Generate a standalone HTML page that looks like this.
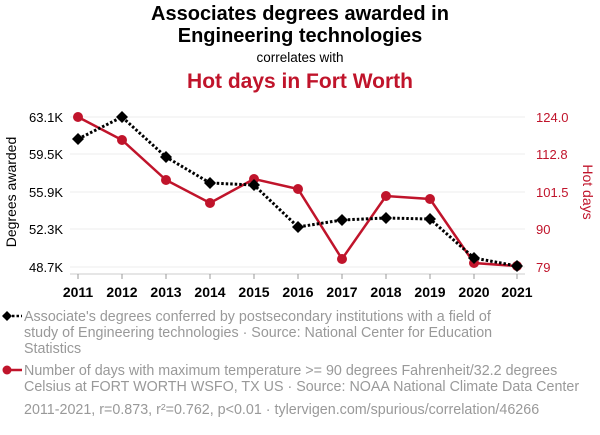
<!DOCTYPE html>
<html><head><style>
body{margin:0;background:#fff;width:600px;height:430px;overflow:hidden;font-family:"Liberation Sans",sans-serif}
</style></head><body>
<svg width="600" height="430" xmlns="http://www.w3.org/2000/svg" font-family="Liberation Sans, sans-serif">
<text x="300" y="20" text-anchor="middle" font-size="20" font-weight="bold" fill="#000">Associates degrees awarded in</text>
<text x="300" y="42" text-anchor="middle" font-size="20" font-weight="bold" fill="#000">Engineering technologies</text>
<text x="300" y="62" text-anchor="middle" font-size="13.5" fill="#000">correlates with</text>
<text x="300" y="88" text-anchor="middle" font-size="21" font-weight="bold" fill="#c0142b">Hot days in Fort Worth</text>
<g stroke="#eee" stroke-width="1">
<line x1="70" x2="525" y1="117" y2="117"/><line x1="70" x2="525" y1="154" y2="154"/><line x1="70" x2="525" y1="192" y2="192"/><line x1="70" x2="525" y1="229" y2="229"/><line x1="70" x2="525" y1="267" y2="267"/>
</g>
<line x1="70" x2="525" y1="274" y2="274" stroke="#ccc"/>
<g stroke="#999"><line x1="78" x2="78" y1="274" y2="279"/><line x1="122" x2="122" y1="274" y2="279"/><line x1="166" x2="166" y1="274" y2="279"/><line x1="210" x2="210" y1="274" y2="279"/><line x1="254" x2="254" y1="274" y2="279"/><line x1="298" x2="298" y1="274" y2="279"/><line x1="342" x2="342" y1="274" y2="279"/><line x1="386" x2="386" y1="274" y2="279"/><line x1="430" x2="430" y1="274" y2="279"/><line x1="474" x2="474" y1="274" y2="279"/><line x1="517" x2="517" y1="274" y2="279"/></g>
<g font-size="14" font-weight="bold" text-anchor="middle" fill="#000">
<text x="78" y="297">2011</text><text x="122" y="297">2012</text><text x="166" y="297">2013</text><text x="210" y="297">2014</text><text x="254" y="297">2015</text><text x="298" y="297">2016</text><text x="342" y="297">2017</text><text x="386" y="297">2018</text><text x="430" y="297">2019</text><text x="474" y="297">2020</text><text x="517" y="297">2021</text>
</g>
<g font-size="13" text-anchor="end" fill="#000">
<text x="63" y="122">63.1K</text><text x="63" y="159">59.5K</text><text x="63" y="197">55.9K</text><text x="63" y="234">52.3K</text><text x="63" y="272">48.7K</text>
</g>
<g font-size="13" text-anchor="start" fill="#c0142b">
<text x="536" y="122">124.0</text><text x="536" y="159">112.8</text><text x="536" y="197">101.5</text><text x="536" y="234">90</text><text x="536" y="272">79</text>
</g>
<text transform="translate(16,192) rotate(-90)" text-anchor="middle" font-size="14" fill="#000">Degrees awarded</text>
<text transform="translate(583,192) rotate(90)" text-anchor="middle" font-size="14" fill="#c0142b">Hot days</text>
<polyline fill="none" stroke="#c0142b" stroke-width="2.5" points="78,117 122,140 166,180 210,203 254,179 298,189 342,259 386,196 430,199 474,263 517,266"/>
<g fill="#c0142b"><circle cx="78" cy="117" r="5"/><circle cx="122" cy="140" r="5"/><circle cx="166" cy="180" r="5"/><circle cx="210" cy="203" r="5"/><circle cx="254" cy="179" r="5"/><circle cx="298" cy="189" r="5"/><circle cx="342" cy="259" r="5"/><circle cx="386" cy="196" r="5"/><circle cx="430" cy="199" r="5"/><circle cx="474" cy="263" r="5"/><circle cx="517" cy="266" r="5"/></g>
<polyline fill="none" stroke="#000" stroke-width="3" stroke-dasharray="2.5,2" points="78,139 122,117 166,157 210,183 254,185 298,227 342,220 386,218 430,219 474,258 517,266"/>
<g fill="#000">
<path d="M78,133l6,6-6,6-6-6z"/><path d="M122,111l6,6-6,6-6-6z"/><path d="M166,151l6,6-6,6-6-6z"/><path d="M210,177l6,6-6,6-6-6z"/><path d="M254,179l6,6-6,6-6-6z"/><path d="M298,221l6,6-6,6-6-6z"/><path d="M342,214l6,6-6,6-6-6z"/><path d="M386,212l6,6-6,6-6-6z"/><path d="M430,213l6,6-6,6-6-6z"/><path d="M474,252l6,6-6,6-6-6z"/><path d="M517,260l6,6-6,6-6-6z"/>
</g>
<line x1="3" x2="22" y1="316" y2="316" stroke="#000" stroke-width="2.5" stroke-dasharray="2.5,2"/>
<path d="M7,311l5,5-5,5-5-5z" fill="#000"/>
<g font-size="14.3" fill="#999">
<text x="24" y="321">Associate's degrees conferred by postsecondary institutions with a field of</text>
<text x="24" y="337">study of Engineering technologies · Source: National Center for Education</text>
<text x="24" y="353">Statistics</text>
<text x="24" y="375">Number of days with maximum temperature &gt;= 90 degrees Fahrenheit/32.2 degrees</text>
<text x="24" y="391">Celsius at FORT WORTH WSFO, TX US · Source: NOAA National Climate Data Center</text>
<text x="24" y="414">2011-2021, r=0.873, r²=0.762, p&lt;0.01 · tylervigen.com/spurious/correlation/46266</text>
</g>
<line x1="3" x2="22" y1="370" y2="370" stroke="#c0142b" stroke-width="2.5"/>
<circle cx="7" cy="370" r="4.5" fill="#c0142b"/>
</svg>
</body></html>
